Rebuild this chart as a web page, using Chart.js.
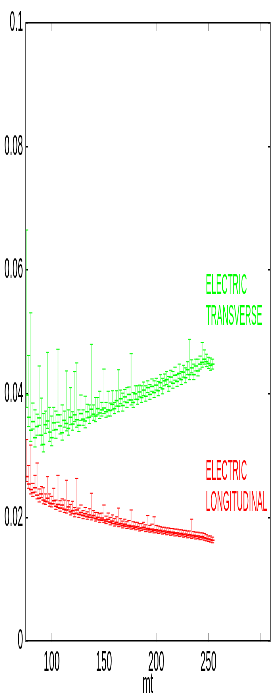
<!DOCTYPE html>
<html>
<head>
<meta charset="utf-8">
<script src="https://cdn.jsdelivr.net/npm/chart.js@4.4.1/dist/chart.umd.min.js"></script>
<style>
  html, body { margin: 0; padding: 0; overflow: hidden; background: #fff; }
  /* the figure is drawn wide and squeezed, like the narrow original */
  #wrap { width: 875px; height: 700px; transform: scaleX(0.32); transform-origin: 0 0; }
</style>
</head>
<body>
<div id="wrap"><canvas id="chart" width="875" height="700"></canvas></div>
<script>
// mt values (x)
const mt = [76, 78, 80, 82, 84, 86, 88, 90, 92, 94, 96, 98, 100, 102, 104, 106, 108, 110, 112, 114,
  116, 118, 120, 122, 124, 126, 128, 130, 132, 134, 136, 138, 140, 142, 144, 146, 148, 150, 152, 154,
  156, 158, 160, 162, 164, 166, 168, 170, 172, 174, 176, 178, 180, 182, 184, 186, 188, 190, 192, 194,
  196, 198, 200, 202, 204, 206, 208, 210, 212, 214, 216, 218, 220, 222, 224, 226, 228, 230, 232, 234,
  236, 238, 240, 242, 244, 246, 248, 250, 252, 254]

// electric transverse
const transVal = [0.0398, 0.0362, 0.0341, 0.0355, 0.0329, 0.0347, 0.0361, 0.0333, 0.0318, 0.0350,
  0.0356, 0.0338, 0.0329, 0.0353, 0.0342, 0.0366, 0.0348, 0.0337, 0.0357, 0.0352,
  0.0344, 0.0362, 0.0351, 0.0366, 0.0358, 0.0349, 0.0368, 0.0359, 0.0356, 0.0371,
  0.0362, 0.0375, 0.0367, 0.0364, 0.0376, 0.0369, 0.0374, 0.0377, 0.0371, 0.0374,
  0.0373, 0.0383, 0.0376, 0.0389, 0.0380, 0.0392, 0.0381, 0.0395, 0.0386, 0.0399,
  0.0390, 0.0386, 0.0400, 0.0391, 0.0403, 0.0394, 0.0406, 0.0396, 0.0410, 0.0399,
  0.0412, 0.0402, 0.0414, 0.0405, 0.0418, 0.0408, 0.0421, 0.0423, 0.0412, 0.0427,
  0.0417, 0.0430, 0.0420, 0.0433, 0.0423, 0.0435, 0.0426, 0.0439, 0.0431, 0.0442,
  0.0431, 0.0445, 0.0437, 0.0448, 0.0451, 0.0456, 0.0452, 0.0449, 0.0446, 0.0448]
const transUp = [0.0267, 0.0100, 0.0190, 0.0030, 0.0045, 0.0020, 0.0084, 0.0060, 0.0050, 0.0022,
  0.0111, 0.0040, 0.0035, 0.0025, 0.0030, 0.0106, 0.0018, 0.0045, 0.0015, 0.0085,
  0.0030, 0.0048, 0.0020, 0.0070, 0.0092, 0.0025, 0.0030, 0.0015, 0.0040, 0.0012,
  0.0020, 0.0105, 0.0015, 0.0030, 0.0018, 0.0035, 0.0012, 0.0063, 0.0015, 0.0030,
  0.0012, 0.0022, 0.0010, 0.0016, 0.0059, 0.0014, 0.0020, 0.0012, 0.0024, 0.0012,
  0.0075, 0.0016, 0.0013, 0.0022, 0.0011, 0.0019, 0.0013, 0.0017, 0.0011, 0.0016,
  0.0012, 0.0019, 0.0011, 0.0015, 0.0013, 0.0017, 0.0011, 0.0013, 0.0016, 0.0011,
  0.0019, 0.0013, 0.0011, 0.0015, 0.0013, 0.0011, 0.0016, 0.0013, 0.0057, 0.0013,
  0.0017, 0.0011, 0.0019, 0.0013, 0.0032, 0.0015, 0.0012, 0.0010, 0.0012, 0.0008]
const transDown = [0.0020, 0.0015, 0.0018, 0.0012, 0.0015, 0.0014, 0.0012, 0.0016, 0.0012, 0.0014,
  0.0012, 0.0015, 0.0013, 0.0012, 0.0014, 0.0012, 0.0013, 0.0012, 0.0011, 0.0012,
  0.0011, 0.0012, 0.0010, 0.0011, 0.0012, 0.0010, 0.0011, 0.0010, 0.0011, 0.0010,
  0.0010, 0.0011, 0.0010, 0.0009, 0.0010, 0.0009, 0.0010, 0.0009, 0.0009, 0.0010,
  0.0009, 0.0009, 0.0008, 0.0009, 0.0009, 0.0008, 0.0009, 0.0008, 0.0008, 0.0009,
  0.0008, 0.0008, 0.0009, 0.0008, 0.0008, 0.0008, 0.0009, 0.0008, 0.0008, 0.0008,
  0.0008, 0.0008, 0.0008, 0.0008, 0.0008, 0.0008, 0.0008, 0.0008, 0.0008, 0.0008,
  0.0008, 0.0008, 0.0008, 0.0008, 0.0008, 0.0008, 0.0008, 0.0008, 0.0008, 0.0008,
  0.0008, 0.0008, 0.0008, 0.0008, 0.0008, 0.0008, 0.0008, 0.0008, 0.0008, 0.0008]

// electric longitudinal
const longVal = [0.0266, 0.0254, 0.0245, 0.0240, 0.0248, 0.0236, 0.0231, 0.0238, 0.0228, 0.0226,
  0.0231, 0.0223, 0.0222, 0.0227, 0.0218, 0.0221, 0.0215, 0.0220, 0.0213, 0.0212,
  0.0217, 0.0209, 0.0211, 0.0206, 0.0212, 0.0205, 0.0208, 0.0203, 0.0206, 0.0201,
  0.0204, 0.0200, 0.0203, 0.0198, 0.0200, 0.0196, 0.0199, 0.0196, 0.0194, 0.0197,
  0.0192, 0.0194, 0.0190, 0.0192, 0.0189, 0.0190, 0.0187, 0.0189, 0.0186, 0.0187,
  0.0185, 0.0186, 0.0184, 0.0185, 0.0182, 0.0183, 0.0184, 0.0181, 0.0182, 0.0180,
  0.0181, 0.0179, 0.0180, 0.0178, 0.0179, 0.0177, 0.0178, 0.0176, 0.0177, 0.0175,
  0.0176, 0.0174, 0.0175, 0.0173, 0.0174, 0.0172, 0.0173, 0.0171, 0.0172, 0.0170,
  0.0171, 0.0169, 0.0170, 0.0168, 0.0169, 0.0167, 0.0166, 0.0165, 0.0164, 0.0163]
const longUp = [0.0060, 0.0030, 0.0072, 0.0015, 0.0020, 0.0052, 0.0015, 0.0012, 0.0020, 0.0012,
  0.0035, 0.0015, 0.0012, 0.0020, 0.0010, 0.0047, 0.0012, 0.0010, 0.0015, 0.0048,
  0.0010, 0.0012, 0.0015, 0.0010, 0.0051, 0.0010, 0.0012, 0.0008, 0.0010, 0.0008,
  0.0010, 0.0039, 0.0008, 0.0010, 0.0008, 0.0010, 0.0008, 0.0024, 0.0008, 0.0010,
  0.0008, 0.0010, 0.0008, 0.0009, 0.0026, 0.0008, 0.0007, 0.0008, 0.0007, 0.0008,
  0.0027, 0.0007, 0.0008, 0.0007, 0.0008, 0.0007, 0.0008, 0.0007, 0.0021, 0.0007,
  0.0008, 0.0022, 0.0007, 0.0008, 0.0006, 0.0007, 0.0006, 0.0007, 0.0006, 0.0007,
  0.0006, 0.0007, 0.0006, 0.0007, 0.0006, 0.0007, 0.0006, 0.0007, 0.0006, 0.0027,
  0.0006, 0.0007, 0.0006, 0.0007, 0.0006, 0.0007, 0.0006, 0.0005, 0.0006, 0.0005]
const longDown = [0.0008, 0.0007, 0.0007, 0.0006, 0.0007, 0.0006, 0.0006, 0.0006, 0.0006, 0.0005,
  0.0006, 0.0005, 0.0005, 0.0005, 0.0005, 0.0005, 0.0005, 0.0005, 0.0005, 0.0005,
  0.0005, 0.0005, 0.0005, 0.0005, 0.0005, 0.0005, 0.0004, 0.0005, 0.0004, 0.0004,
  0.0004, 0.0004, 0.0004, 0.0004, 0.0004, 0.0004, 0.0004, 0.0004, 0.0004, 0.0004,
  0.0004, 0.0004, 0.0004, 0.0004, 0.0004, 0.0004, 0.0004, 0.0004, 0.0004, 0.0004,
  0.0004, 0.0004, 0.0004, 0.0004, 0.0004, 0.0004, 0.0004, 0.0004, 0.0004, 0.0004,
  0.0004, 0.0004, 0.0004, 0.0004, 0.0004, 0.0004, 0.0004, 0.0004, 0.0004, 0.0004,
  0.0004, 0.0004, 0.0004, 0.0004, 0.0004, 0.0004, 0.0004, 0.0004, 0.0004, 0.0004,
  0.0004, 0.0004, 0.0004, 0.0004, 0.0004, 0.0004, 0.0004, 0.0004, 0.0004, 0.0004]

// ticks
const xTicks = [100, 150, 200, 250, 300]
const xTickText = ['100', '150', '200', '250', '']
const yTicks = [0, 0.02, 0.04, 0.06, 0.08, 0.1]
const yTickText = ['0', '0.02', '0.04', '0.06', '0.08', '0.1']

const transLabel = ['ELECTRIC', 'TRANSVERSE']
const longLabel = ['ELECTRIC', 'LONGITUDINAL']

const FONT = 'Liberation Sans, Arial, sans-serif'

// vertical error segments: low, high, gap
function errorData(vals, up, down) {
    const pts = []
    mt.forEach(function (x, i) {
        pts.push({ x: x, y: vals[i] - down[i] })
        pts.push({ x: x, y: vals[i] + up[i] })
        pts.push({ x: x, y: null })
    })
    return pts
}

function pointData(vals) {
    return mt.map(function (x, i) { return { x: x, y: vals[i] } })
}

function errorSet(vals, up, down, line, cap) {
    return {
        type: 'line',
        data: errorData(vals, up, down),
        borderColor: line,
        borderWidth: 2,
        spanGaps: false,
        pointStyle: 'line',
        pointRadius: 5,
        pointBorderWidth: 1,
        pointBorderColor: cap,
        pointBackgroundColor: cap,
        order: 2
    }
}

function pointSet(vals, color) {
    return {
        type: 'line',
        data: pointData(vals),
        showLine: false,
        pointStyle: 'line',
        pointRadius: 6,
        pointBorderWidth: 1.5,
        pointBorderColor: color,
        borderColor: color,
        order: 1
    }
}

// text notes next to the curves
const notesPlugin = {
    id: 'notes',
    afterDatasetsDraw(chart) {
        const ctx = chart.ctx
        const xs = chart.scales.x
        const ys = chart.scales.y
        const notes = [
            { text: transLabel, color: '#00ff00', x: 247.5, y: [0.0561, 0.0511] },
            { text: longLabel, color: '#ff0000', x: 247.5, y: [0.0260, 0.0211] }
        ]
        ctx.save()
        ctx.font = '26px ' + FONT
        ctx.textAlign = 'left'
        ctx.textBaseline = 'alphabetic'
        notes.forEach(function (n) {
            ctx.fillStyle = n.color
            n.text.forEach(function (t, i) {
                ctx.save()
                ctx.translate(xs.getPixelForValue(n.x), ys.getPixelForValue(n.y[i]))
                ctx.scale(1, 1.17)
                ctx.fillText(t, 0, 0)
                ctx.restore()
            })
        })
        ctx.restore()
    }
}

function fixTicks(values) {
    return function (scale) {
        scale.ticks = values.map(function (v) { return { value: v } })
    }
}

// fixed box sizes, no extra padding for the edge labels
function boxSize(w, h) {
    return function (s) {
        if (w !== null) s.width = w
        if (h !== null) s.height = h
        s.paddingTop = 0
        s.paddingBottom = 0
        s.paddingLeft = 0
        s.paddingRight = 0
    }
}

const ctx = document.getElementById('chart')
const chart = new Chart(ctx, {
    data: {
        datasets: [
            pointSet(transVal, '#00ff00'),
            pointSet(longVal, '#ff0000'),
            errorSet(transVal, transUp, transDown, 'rgba(0,255,0,0.45)', '#00ff00'),
            errorSet(longVal, longUp, longDown, 'rgba(255,0,0,0.4)', '#ff0000')
        ]
    },
    options: {
        responsive: false,
        animation: false,
        devicePixelRatio: 1,
        layout: { padding: 0 },
        plugins: { legend: { display: false }, tooltip: { enabled: false } },
        scales: {
            x: {
                type: 'linear', position: 'bottom', min: 75, max: 309,
                afterBuildTicks: fixTicks(xTicks),
                afterFit: boxSize(null, 59),
                grid: { drawOnChartArea: false, tickLength: -8, color: '#999', lineWidth: 1 },
                border: { color: '#000', width: 1.5 },
                ticks: {
                    color: '#000', padding: 12, maxRotation: 0, autoSkip: false,
                    font: { family: FONT, size: 30 },
                    callback: function (v, i) { return xTickText[i] }
                },
                title: { display: true, text: 'mt', color: '#000', padding: 0, font: { family: FONT, size: 30, lineHeight: 1 } }
            },
            x2: {
                type: 'linear', position: 'top', min: 75, max: 309,
                afterBuildTicks: fixTicks(xTicks),
                afterFit: boxSize(null, 23),
                grid: { drawOnChartArea: false, tickLength: -8, color: '#999', lineWidth: 1 },
                border: { color: '#000', width: 1.5 },
                ticks: { display: false }
            },
            y: {
                type: 'linear', position: 'left', min: 0, max: 0.1,
                afterBuildTicks: fixTicks(yTicks),
                afterFit: boxSize(80, null),
                grid: { drawOnChartArea: false, tickLength: -7, color: '#000', lineWidth: 1.5 },
                border: { color: '#555', width: 3 },
                ticks: {
                    color: '#000', padding: 15, autoSkip: false,
                    font: { family: FONT, size: 30 },
                    callback: function (v, i) { return yTickText[i] }
                }
            },
            y2: {
                type: 'linear', position: 'right', min: 0, max: 0.1,
                afterBuildTicks: fixTicks(yTicks),
                afterFit: boxSize(31, null),
                grid: { drawOnChartArea: false, tickLength: -7, color: '#000', lineWidth: 1.5 },
                border: { color: '#555', width: 3 },
                ticks: { display: false }
            }
        }
    },
    plugins: [notesPlugin]
});
</script>
</body>
</html>
